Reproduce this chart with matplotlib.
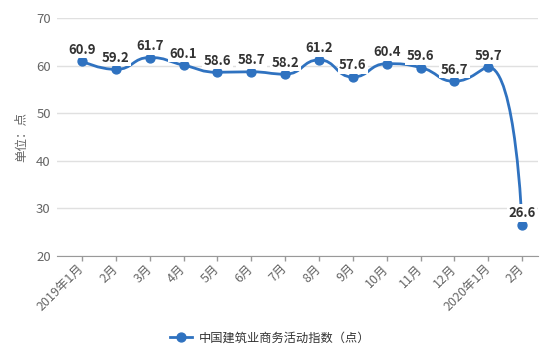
import numpy as np
import matplotlib
matplotlib.use('Agg')
import matplotlib.pyplot as plt
from matplotlib.path import Path
from matplotlib.patches import PathPatch
from matplotlib.lines import Line2D

plt.rcParams['font.family'] = ['Noto Sans CJK SC', 'DejaVu Sans']

categories = ['2019年1月', '2月', '3月', '4月', '5月', '6月', '7月', '8月',
              '9月', '10月', '11月', '12月', '2020年1月', '2月']
values = [60.9, 59.2, 61.7, 60.1, 58.6, 58.7, 58.2, 61.2, 57.6, 60.4, 59.6, 56.7, 59.7, 26.6]
series_name = '中国建筑业商务活动指数（点）'
y_label = '单位：点'
y_ticks = [20, 30, 40, 50, 60, 70]

LINE = '#2f72c0'
W, H = 555, 355
fig = plt.figure(figsize=(W / 100, H / 100), dpi=100)
left, right, top, bottom = 57, 538, 18, 256
ax = fig.add_axes([left / W, 1 - bottom / H, (right - left) / W, (bottom - top) / H])
x = np.arange(len(values))
ax.set_xlim(-0.74, len(values) - 1 + 0.47)
ax.set_ylim(min(y_ticks), max(y_ticks))


def echarts_smooth(pts, smooth=0.5):
    verts = [tuple(pts[0])]
    codes = [Path.MOVETO]
    cp0 = tuple(pts[0])
    n = len(pts)
    for k in range(1, n):
        x_, y_ = pts[k]
        px, py = pts[k - 1]
        if k == n - 1:
            ncp0 = (x_, y_)
            ncp1 = None
        else:
            nx, ny = pts[k + 1]
            vx, vy = nx - px, ny - py
            lp = np.hypot(x_ - px, y_ - py)
            ln = np.hypot(nx - x_, ny - y_)
            r = ln / (ln + lp)
            c1x = x_ + vx * smooth * r
            c1y = y_ + vy * smooth * r
            c1x = max(min(c1x, max(nx, x_)), min(nx, x_))
            c1y = max(min(c1y, max(ny, y_)), min(ny, y_))
            vx, vy = c1x - x_, c1y - y_
            c0x = x_ - vx * lp / ln
            c0y = y_ - vy * lp / ln
            c0x = max(min(c0x, max(px, x_)), min(px, x_))
            c0y = max(min(c0y, max(py, y_)), min(py, y_))
            vx, vy = x_ - c0x, y_ - c0y
            c1x = x_ + vx * ln / lp
            c1y = y_ + vy * ln / lp
            ncp0 = (c0x, c0y)
            ncp1 = (c1x, c1y)
        verts += [cp0, ncp0, (x_, y_)]
        codes += [Path.CURVE4] * 3
        cp0 = ncp1
    return np.array(verts), codes


disp = ax.transData.transform(np.column_stack([x, values]))
v_disp, codes = echarts_smooth(disp)
v_data = ax.transData.inverted().transform(v_disp)
ax.add_patch(PathPatch(Path(v_data, codes), fill=False, edgecolor=LINE, lw=2.0,
                       zorder=2, capstyle='round', joinstyle='round'))
ax.plot(x, values, linestyle='none', marker='o', markersize=6.4, color=LINE, zorder=3)

for xi, v in zip(x, values):
    ax.annotate(f'{v}', (xi, v), xytext=(0, 8.3), textcoords='offset points',
                ha='center', va='center', fontsize=9.5, fontweight='bold', color='#333333',
                zorder=5, bbox=dict(boxstyle='square,pad=0.12', fc='white', ec='none'))

ax.set_yticks(y_ticks)
ax.set_xticks(x)
ax.set_xticklabels(categories, rotation=45, ha='right', va='center', rotation_mode='anchor')
ax.grid(axis='y', color='#e0e0e0', lw=1)
ax.set_axisbelow(True)
for s in ['left', 'right', 'top']:
    ax.spines[s].set_visible(False)
ax.spines['bottom'].set_color('#999999')
ax.tick_params(axis='y', length=0, pad=4.5, labelsize=9.5, labelcolor='#666666')
ax.tick_params(axis='x', length=3.6, width=1, color='#999999', pad=4, labelsize=9,
               labelcolor='#666666')
fig.text(22 / W, 1 - 137 / H, y_label, rotation=90, ha='center', va='center',
         fontsize=9, color='#666666')

handle = Line2D([], [], color=LINE, lw=2, marker='o', markersize=6.4)
fig.legend([handle], [series_name], loc='center', bbox_to_anchor=(270 / W, 1 - 338 / H),
           frameon=False, fontsize=8.8, handlelength=1.8, handletextpad=0.5,
           labelcolor='#333333')

fig.savefig('out.png', dpi=100)
